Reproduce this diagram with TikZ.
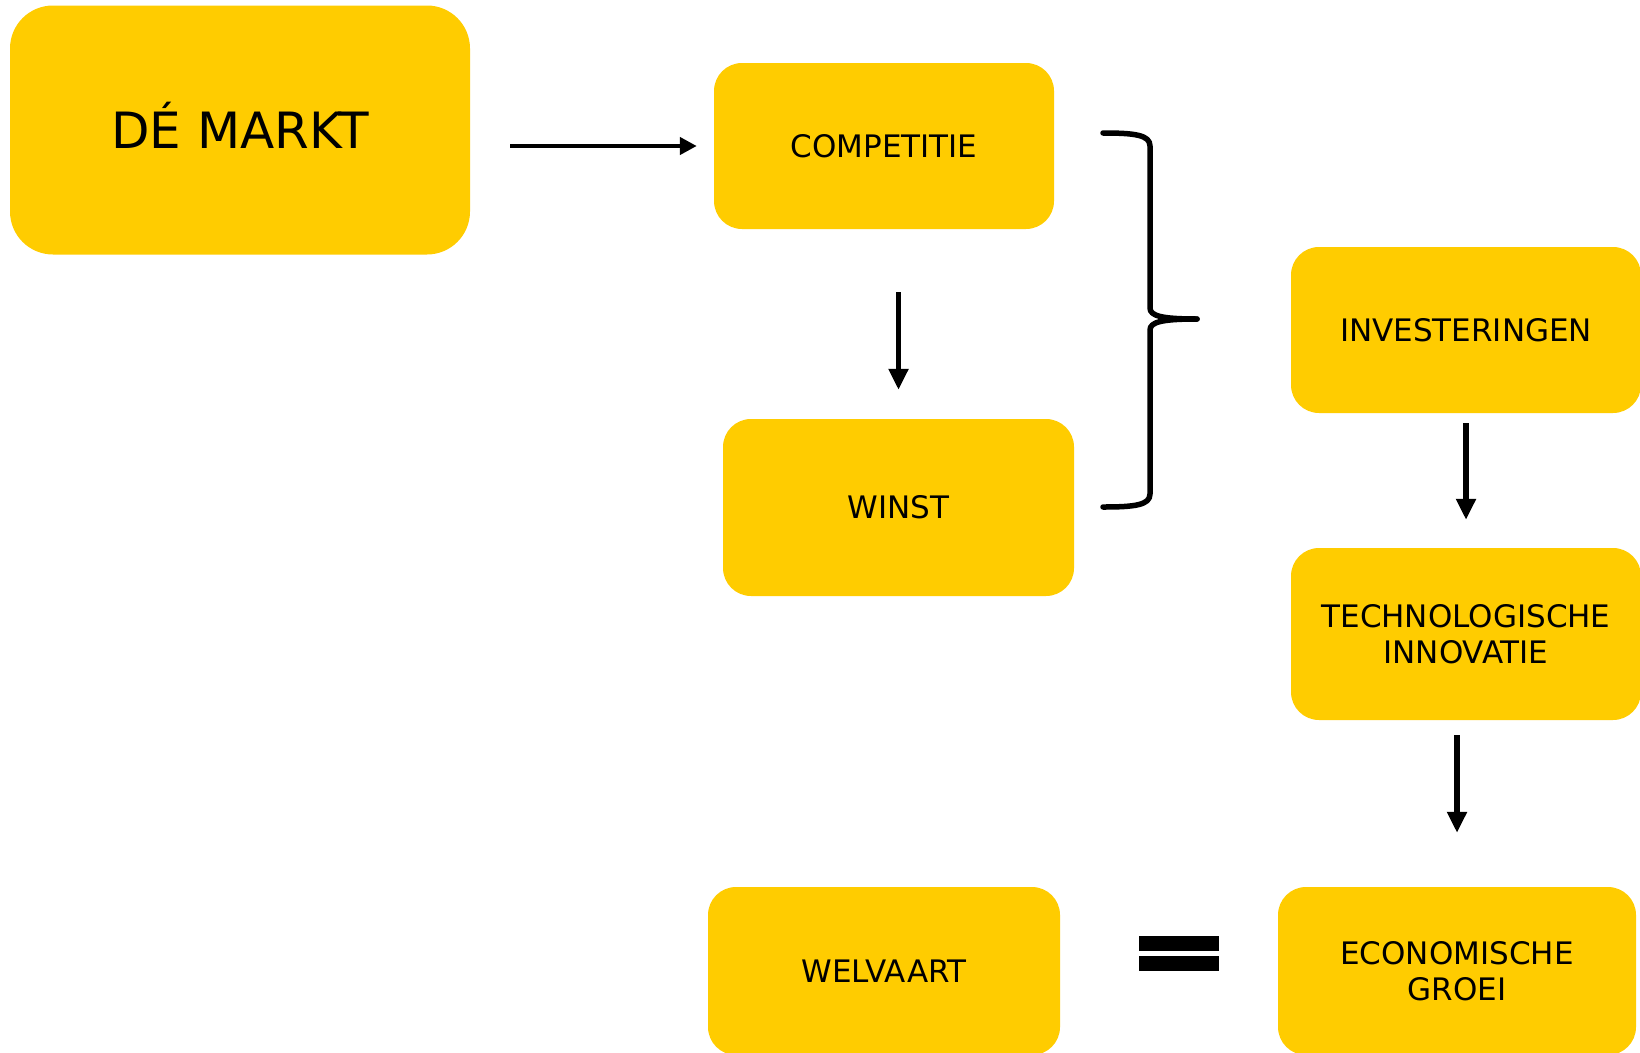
\documentclass[tikz,border=0pt]{standalone}
\usepackage{fontspec}
\setmainfont{DejaVu Sans}
\usetikzlibrary{arrows.meta}
\definecolor{ybox}{RGB}{255,204,0}
\begin{document}
\begin{tikzpicture}[x=1pt,y=-1pt,
  box/.style={fill=ybox, draw=none, rounded corners=28pt, inner sep=0pt, align=center,
    font=\fontsize{31}{36}\selectfont, text=black},
  harr/.style={line width=4.5pt, -{Triangle[length=17pt,width=17pt]}},
  varr/.style={line width=5.5pt, -{Triangle[length=21pt,width=19pt]}},
  bracestyle/.style={line width=5.5pt, line cap=round, line join=round}]
\useasboundingbox (0,0) rectangle (1640,1052);
\fill[white] (0,0) rectangle (1640,1052);

\node[box, rounded corners=43pt, minimum width=460pt, minimum height=249pt,
      font=\fontsize{50}{60}\selectfont] (markt) at (240,130) {D\smash{É} MARKT};
\node[box, minimum width=340pt, minimum height=166pt] (comp) at (884,146) {COMPETITIE};
\node[box, minimum width=351pt, minimum height=177pt] (winst) at (898.5,507.5) {WINST};
\node[box, minimum width=350pt, minimum height=166pt] (invest) at (1466,330) {INVESTERINGEN};
\node[box, minimum width=350pt, minimum height=172pt] (tech) at (1466,634) {TECHNOLOGISCHE\\INNOVATIE};
\node[box, minimum width=358pt, minimum height=168pt] (econ) at (1457,971) {ECONOMISCHE\\GROEI};
\node[box, minimum width=352pt, minimum height=168pt] (welv) at (884,971) {WELVAART};

\draw[harr, shorten <=40pt, shorten >=17pt] (markt.east |- comp.west) -- (comp.west);
\draw[varr, shorten <=63pt, shorten >=29pt] (winst.north |- comp.south) -- (winst.north);
\draw[varr, shorten <=10pt, shorten >=28pt] (invest.south) -- (tech.north);
\draw[varr, shorten <=15pt, shorten >=54pt] (econ.north |- tech.south) -- (econ.north);

% brace
\draw[bracestyle] (1103,133) .. controls (1135,133) and (1150,135) .. (1150,146)
  -- (1150,308) .. controls (1150,316) and (1162,319) .. (1197,319);
\draw[bracestyle] (1197,319) .. controls (1162,319) and (1150,322) .. (1150,330)
  -- (1150,494) .. controls (1150,505) and (1135,507) .. (1103,507);

% equals sign
\fill[black] (1139,936) rectangle (1219,951);
\fill[black] (1139,956) rectangle (1219,971);
\end{tikzpicture}
\end{document}
